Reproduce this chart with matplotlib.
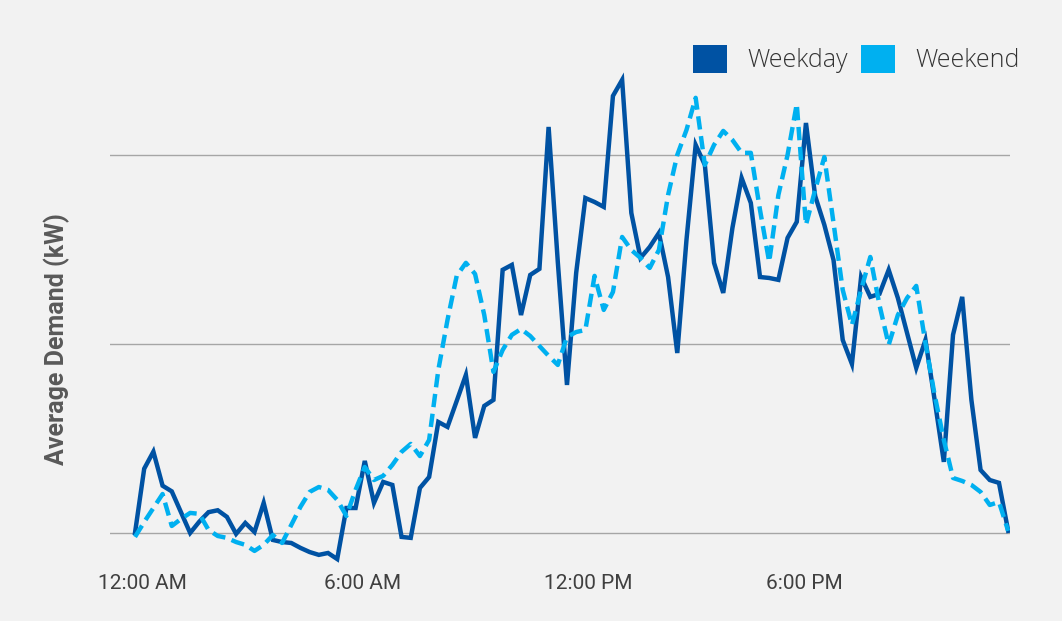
import matplotlib
matplotlib.use("Agg")
import matplotlib.pyplot as plt
from matplotlib.patches import Patch
import numpy as np

# 15-minute intervals, 0:00 .. 23:45
hours = [i * 0.25 for i in range(96)]

weekday = [0, 34, 43, 25, 22, 11, 0, 6, 11, 12, 8.5, -0.5, 5.3, 0.5, 15.9, -3.7,
           -4.8, -5.3, -7.9, -10.1, -11.6, -10.6, -13.8, 13.2, 13.2, 38.1, 15.9, 27, 25.4, -2.1, -2.6, 23.8,
           29.6, 58.7, 56.1, 69.8, 83.6, 50.3, 67.2, 70.4, 139.2, 141.8, 115.3, 136.5, 139.7, 214.8, 143.4, 78.3,
           137.6, 177.2, 175.1, 172.5, 231.2, 239.7, 169.3, 145.5, 151.3, 158.7, 135.4, 95.2, 155, 205.3, 194.7, 142.9,
           127, 161.4, 187.8, 174.6, 135.4, 134.9, 133.9, 156.1, 164.6, 216.9, 178.3, 163, 144.4, 102.1, 89.4, 135.4,
           124.9, 126.5, 139.2, 124.3, 105.8, 87.3, 102.1, 70.4, 37.6, 104.8, 124.9, 70.4, 33.3, 28, 26.5, 1.1]

weekend = [-2.1, 5.8, 13.2, 20.6, 3.7, 7.4, 10.6, 10.1, 1.6, -1.6, -2.6, -4.8, -6.3, -9.5, -6.3, -1.1,
           -5.3, 4.2, 13.8, 21.7, 24.3, 22.8, 17.5, 9, 22.8, 34.9, 28, 30.2, 36, 42.9, 47.1, 40.7,
           49.2, 86.2, 112.7, 136, 142.9, 137, 115.3, 85.2, 96.8, 104.8, 107.9, 104.2, 98.9, 93.7, 88.9, 103.7,
           106.3, 107.4, 136, 118, 127.5, 156.6, 149.7, 145.5, 140.2, 149.7, 178.8, 200, 213.2, 230.2, 194.7, 205.3,
           212.7, 207.9, 201.1, 201.1, 170.9, 143.4, 178.8, 200, 227, 163, 181.5, 198.9, 164, 128.6, 110, 128.6,
           146, 120.6, 99.5, 115.3, 124.3, 130.7, 100.5, 73, 49.2, 29.1, 27.5, 25.4, 21.7, 14.8, 16.4, 1.1]

tick_hours = [0.19, 6.18, 12.32, 18.2]
tick_labels = ["12:00 AM", "6:00 AM", "12:00 PM", "6:00 PM"]
gridvals = [0, 100, 200]

BG = "#f2f2f2"
C_WD = "#0052a3"
C_WE = "#00b0f0"

plt.rcParams['font.family'] = ['Roboto', 'DejaVu Sans']

fig = plt.figure(figsize=(10.62, 6.21), dpi=100, facecolor=BG)
W, H = 1062, 621
left, right, top, bottom = 110, 1010, 40, 570
ax = fig.add_axes([left / W, 1 - bottom / H, (right - left) / W, (bottom - top) / H], facecolor=BG)

ax.plot(hours, weekday, color=C_WD, lw=3.2, solid_joinstyle='miter', zorder=3)
ax.plot(hours, weekend, color=C_WE, lw=3.2, dashes=(3.0, 1.5), zorder=4)

ax.set_xlim(-0.68, 23.80)
ax.set_ylim(-19.6, 260.8)
ax.set_yticks(gridvals)
ax.set_yticklabels([])
ax.tick_params(axis='y', length=0)
ax.grid(axis='y', color='#a6a6a6', lw=1.0)
ax.set_axisbelow(True)
ax.set_xticks(tick_hours)
ax.set_xticklabels(tick_labels, fontsize=15, color='#404040')
ax.tick_params(axis='x', length=0, pad=3)
for s in ax.spines.values():
    s.set_visible(False)

fig.text(57 / W, 1 - 339 / H, "Average Demand (kW)", rotation=90, ha='center', va='center',
         fontsize=18, fontweight='bold', color='#595959')

handles = [Patch(facecolor=C_WD, edgecolor='none', label='Weekday'),
           Patch(facecolor=C_WE, edgecolor='none', label='Weekend')]
fig.legend(handles=handles, loc='upper right', bbox_to_anchor=(1032 / W, 1 - 32 / H), ncol=2,
           frameon=False, handlelength=1.35, handleheight=1.35,
           handletextpad=0.8, columnspacing=0.55, borderpad=0, labelcolor='#333333',
           prop={'family': 'Open Sans', 'size': 18, 'weight': 'light'})

fig.savefig("out.png", dpi=100, facecolor=BG)
